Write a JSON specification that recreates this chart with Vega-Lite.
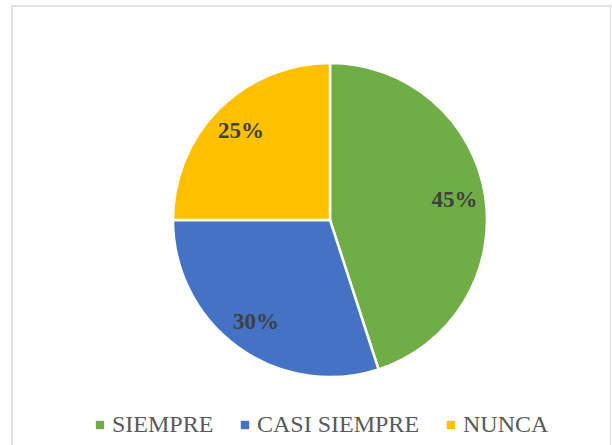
{
  "$schema": "https://vega.github.io/schema/vega-lite/v6.json",
  "width": 599,
  "height": 445,
  "autosize": {"type": "none"},
  "padding": {"left": 12, "top": 6, "right": 0, "bottom": 0},
  "background": "white",
  "view": {"stroke": "#d9d9d9", "strokeWidth": 1.5},
  "config": {
    "view": {"stroke": "#d9d9d9", "strokeWidth": 1.5},
    "font": "Liberation Serif"
  },
  "data": {
    "values": [
      {"categoria": "SIEMPRE", "valor": 45, "orden": 1, "etiqueta": "45%"},
      {"categoria": "CASI SIEMPRE", "valor": 30, "orden": 2, "etiqueta": "30%"},
      {"categoria": "NUNCA", "valor": 25, "orden": 3, "etiqueta": "25%"}
    ]
  },
  "encoding": {
    "theta": {"field": "valor", "type": "quantitative", "stack": true},
    "order": {"field": "orden", "type": "quantitative"},
    "color": {
      "field": "categoria",
      "type": "nominal",
      "scale": {
        "domain": ["SIEMPRE", "CASI SIEMPRE", "NUNCA"],
        "range": ["#70ad47", "#4472c4", "#ffc000"]
      },
      "legend": {
        "title": null,
        "orient": "none",
        "direction": "horizontal",
        "legendX": 76,
        "legendY": 407,
        "padding": 0,
        "symbolType": "square",
        "symbolSize": 70,
        "symbolStrokeWidth": 0,
        "labelFont": "Liberation Serif",
        "labelFontSize": 24,
        "labelColor": "#595959",
        "labelOffset": 0,
        "columnPadding": 19,
        "labelLimit": 300
      }
    }
  },
  "layer": [
    {
      "mark": {"type": "arc", "outerRadius": 157, "stroke": "white", "strokeWidth": 2.5, "xOffset": 18.5, "yOffset": -8.5}
    },
    {
      "mark": {"type": "text", "radius": 126, "font": "Liberation Serif", "fontWeight": "bold", "fontSize": 23, "fill": "#404040", "baseline": "middle", "align": "center", "xOffset": 18.5, "yOffset": -8.5},
      "encoding": {
        "text": {"field": "etiqueta"},
        "color": {"value": "#404040"}
      }
    }
  ]
}
